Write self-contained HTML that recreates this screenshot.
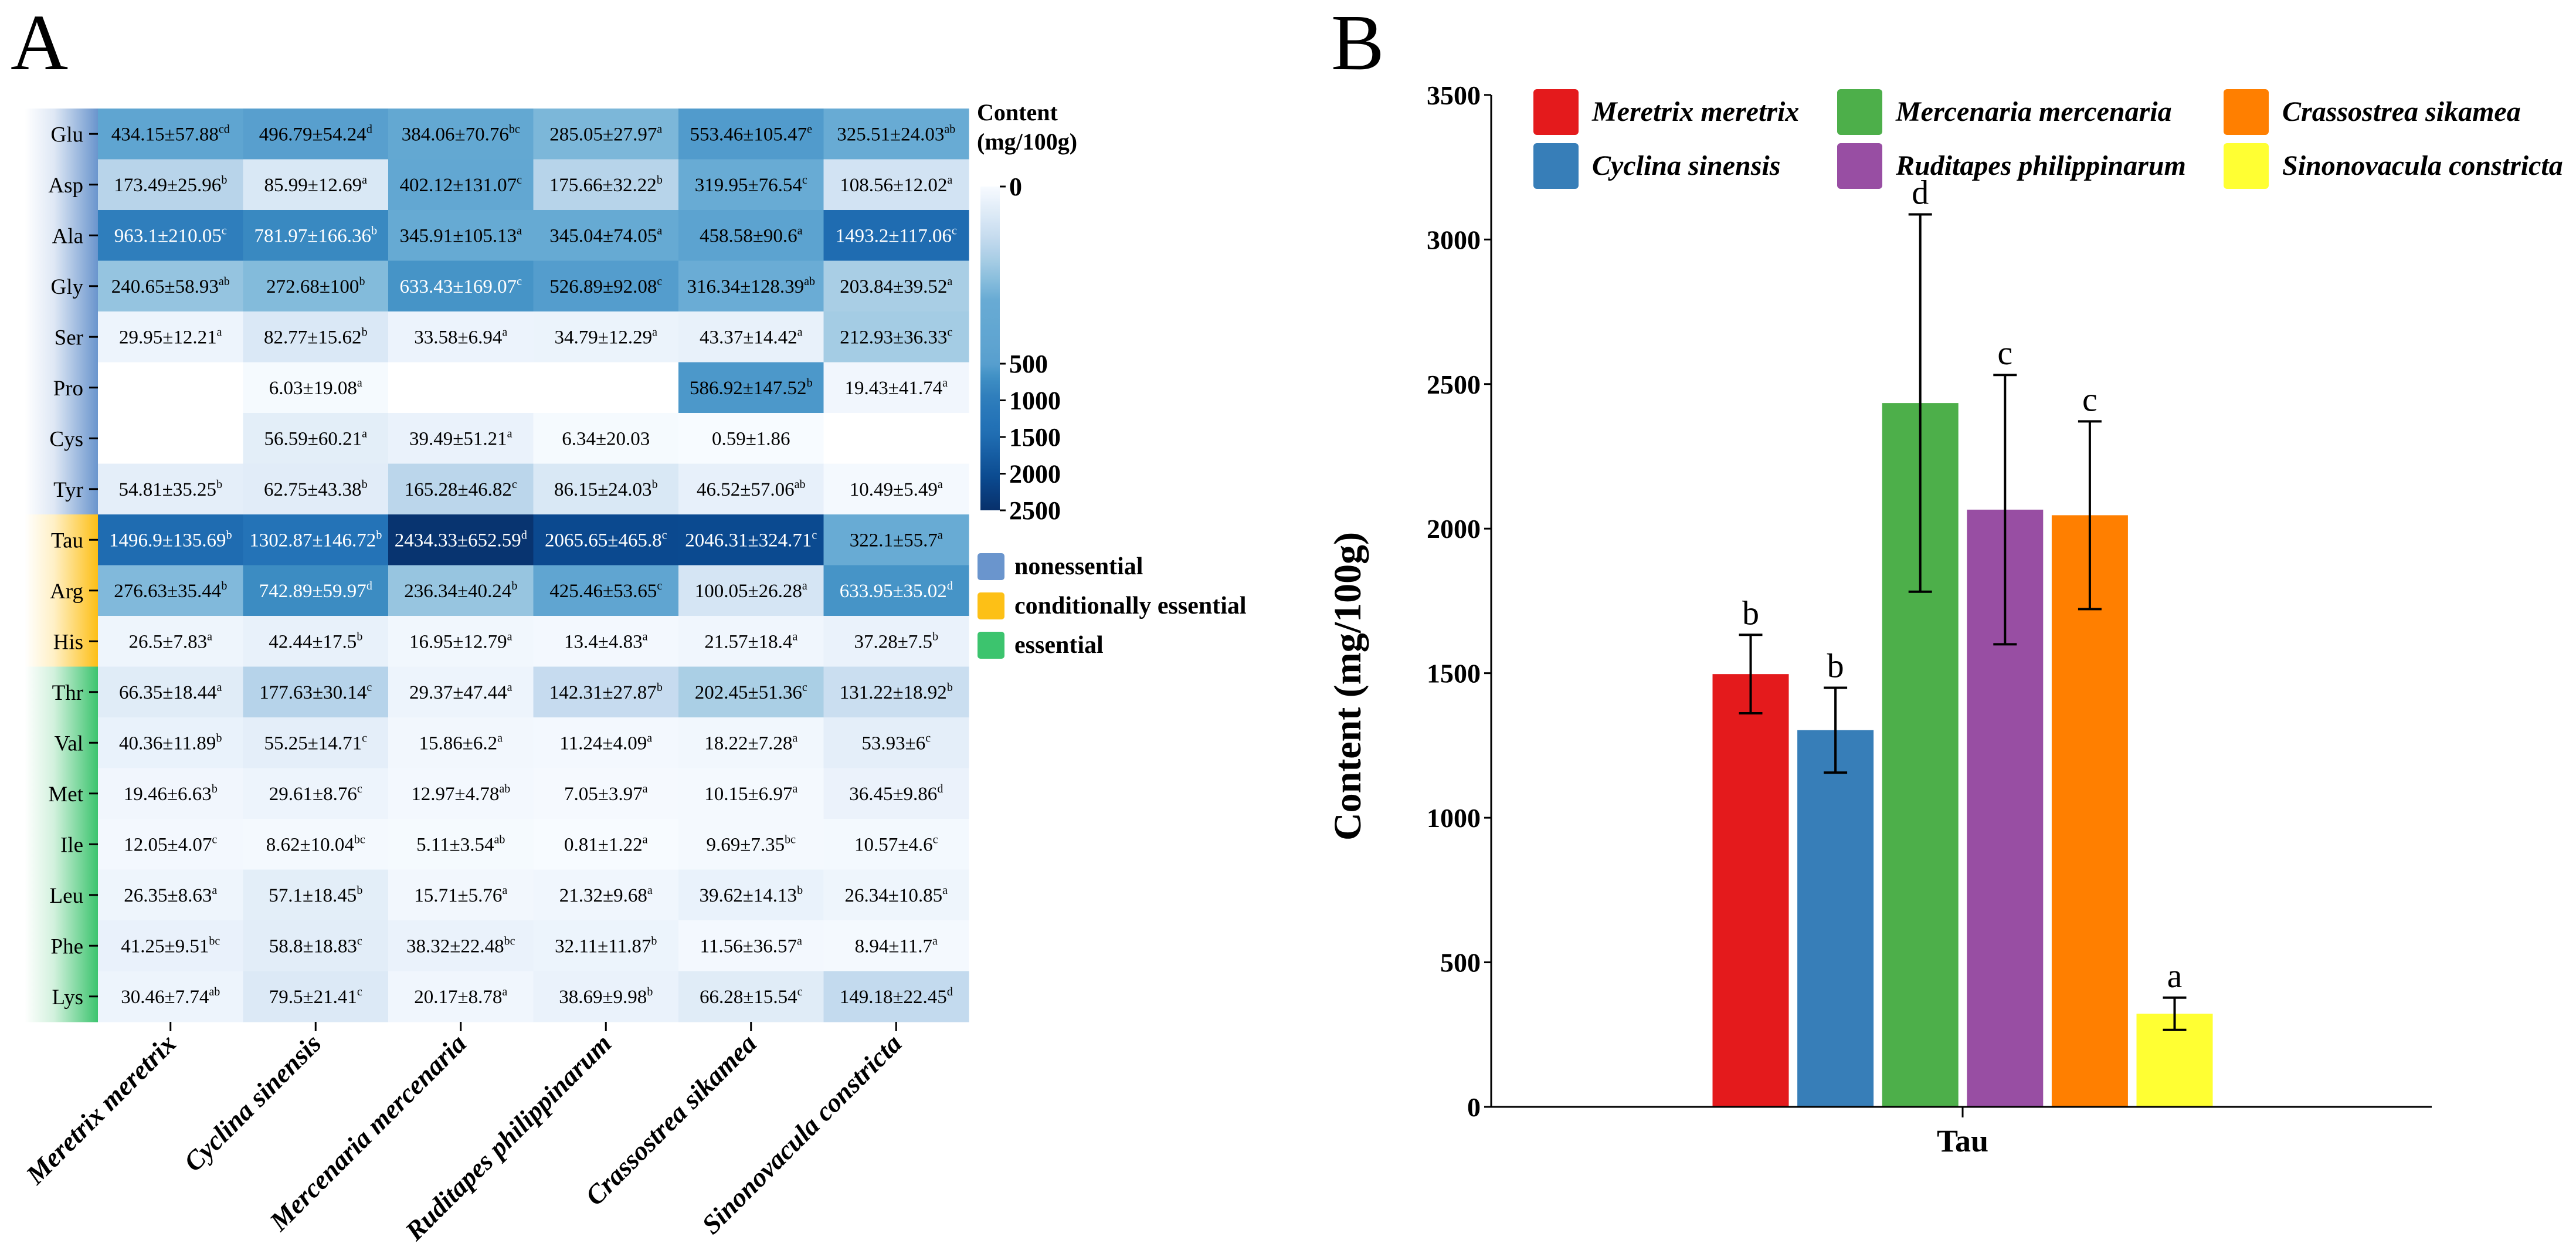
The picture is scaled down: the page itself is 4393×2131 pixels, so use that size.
<!DOCTYPE html>
<html><head><meta charset="utf-8"><style>
html,body{margin:0;padding:0;background:#fff;}
svg{display:block;font-family:"Liberation Serif",serif;}
text{font-family:"Liberation Serif",serif;}
</style></head><body>
<svg id="fig" width="4393" height="2131" viewBox="0 0 4393 2131" xmlns="http://www.w3.org/2000/svg" font-family="Liberation Serif, serif">
<defs>
<linearGradient id="gNon" x1="0" x2="1" y1="0" y2="0"><stop offset="0" stop-color="#ffffff"/><stop offset="0.4" stop-color="#dfe8f5"/><stop offset="1" stop-color="#6a95cd"/></linearGradient>
<linearGradient id="gCond" x1="0" x2="1" y1="0" y2="0"><stop offset="0" stop-color="#ffffff"/><stop offset="0.4" stop-color="#fff0c6"/><stop offset="1" stop-color="#fdbf16"/></linearGradient>
<linearGradient id="gEss" x1="0" x2="1" y1="0" y2="0"><stop offset="0" stop-color="#ffffff"/><stop offset="0.4" stop-color="#d2f1dd"/><stop offset="1" stop-color="#3cc46e"/></linearGradient>
<linearGradient id="gBar" x1="0" x2="0" y1="0" y2="1"></linearGradient>
</defs>
<text x="18" y="118" font-size="136" font-family="Liberation Serif, serif">A</text>
<text x="2270" y="118" font-size="136" font-family="Liberation Serif, serif">B</text>
<g id="heat"></g>
<g id="cbar"></g>
<g id="bars"></g>
</svg>
<script>
const NS="http://www.w3.org/2000/svg";
// ---------- heatmap data ----------
const aminoAcids=["Glu","Asp","Ala","Gly","Ser","Pro","Cys","Tyr","Tau","Arg","His","Thr","Val","Met","Ile","Leu","Phe","Lys"];
const aaGroup=["non","non","non","non","non","non","non","non","cond","cond","cond","ess","ess","ess","ess","ess","ess","ess"];
const species=["Meretrix meretrix","Cyclina sinensis","Mercenaria mercenaria","Ruditapes philippinarum","Crassostrea sikamea","Sinonovacula constricta"];
const means=[
[434.15,496.79,384.06,285.05,553.46,325.51],
[173.49,85.99,402.12,175.66,319.95,108.56],
[963.1,781.97,345.91,345.04,458.58,1493.2],
[240.65,272.68,633.43,526.89,316.34,203.84],
[29.95,82.77,33.58,34.79,43.37,212.93],
[null,6.03,null,null,586.92,19.43],
[null,56.59,39.49,6.34,0.59,null],
[54.81,62.75,165.28,86.15,46.52,10.49],
[1496.9,1302.87,2434.33,2065.65,2046.31,322.1],
[276.63,742.89,236.34,425.46,100.05,633.95],
[26.5,42.44,16.95,13.4,21.57,37.28],
[66.35,177.63,29.37,142.31,202.45,131.22],
[40.36,55.25,15.86,11.24,18.22,53.93],
[19.46,29.61,12.97,7.05,10.15,36.45],
[12.05,8.62,5.11,0.81,9.69,10.57],
[26.35,57.1,15.71,21.32,39.62,26.34],
[41.25,58.8,38.32,32.11,11.56,8.94],
[30.46,79.5,20.17,38.69,66.28,149.18]];
const sds=[
[57.88,54.24,70.76,27.97,105.47,24.03],
[25.96,12.69,131.07,32.22,76.54,12.02],
[210.05,166.36,105.13,74.05,90.6,117.06],
[58.93,100,169.07,92.08,128.39,39.52],
[12.21,15.62,6.94,12.29,14.42,36.33],
[null,19.08,null,null,147.52,41.74],
[null,60.21,51.21,20.03,1.86,null],
[35.25,43.38,46.82,24.03,57.06,5.49],
[135.69,146.72,652.59,465.8,324.71,55.7],
[35.44,59.97,40.24,53.65,26.28,35.02],
[7.83,17.5,12.79,4.83,18.4,7.5],
[18.44,30.14,47.44,27.87,51.36,18.92],
[11.89,14.71,6.2,4.09,7.28,6],
[6.63,8.76,4.78,3.97,6.97,9.86],
[4.07,10.04,3.54,1.22,7.35,4.6],
[8.63,18.45,5.76,9.68,14.13,10.85],
[9.51,18.83,22.48,11.87,36.57,11.7],
[7.74,21.41,8.78,9.98,15.54,22.45]];
const letters=[
["cd","d","bc","a","e","ab"],["b","a","c","b","c","a"],["c","b","a","a","a","c"],["ab","b","c","c","ab","a"],
["a","b","a","a","a","c"],["","a","","","b","a"],["","a","a","","",""],["b","b","c","b","ab","a"],
["b","b","d","c","c","a"],["b","d","b","c","a","d"],["a","b","a","a","a","b"],["a","c","a","b","c","b"],
["b","c","a","a","a","c"],["b","c","ab","a","a","d"],["c","bc","ab","a","bc","c"],["a","b","a","a","b","a"],
["bc","c","bc","b","a","a"],["ab","c","a","b","c","d"]];
const cbarTicks=[0,500,1000,1500,2000,2500];
const groupLegend=["nonessential","conditionally essential","essential"];
// ---------- bar data ----------
const barCategory="Tau";
const barMeans=[1496.9,1302.87,2434.33,2065.65,2046.31,322.1];
const barSds=[135.69,146.72,652.59,465.8,324.71,55.7];
const barLetters=["b","b","d","c","c","a"];
const yTicks=[0,500,1000,1500,2000,2500,3000,3500];

const colorStops=[[0,"#f7fbff"],[30,"#edf4fc"],[60,"#e2edf8"],[90,"#d8e7f5"],[140,"#c7dcef"],[175,"#b7d4ea"],[210,"#a6cde4"],[240,"#95c4e0"],[275,"#82badb"],[320,"#68abd4"],[430,"#60a5d1"],[550,"#519bcc"],[640,"#4593c7"],[750,"#3b8bc2"],[960,"#2f7ebc"],[1300,"#2473b7"],[1500,"#1f6cb1"],[2050,"#0b4a90"],[2500,"#08306b"]];
function hex(h){return [1,3,5].map(i=>parseInt(h.substr(i,2),16));}
function colorFor(v){
  if(v<=0)return colorStops[0][1];
  for(let i=1;i<colorStops.length;i++){
    if(v<=colorStops[i][0]){const a=colorStops[i-1],b=colorStops[i];const t=(v-a[0])/(b[0]-a[0]);
      const ca=hex(a[1]),cb=hex(b[1]);return "rgb("+ca.map((c,k)=>Math.round(c+(cb[k]-c)*t)).join(",")+")";}
  }
  return colorStops[colorStops.length-1][1];
}
function mk(tag,attrs,parent,text){const e=document.createElementNS(NS,tag);for(const k in attrs)e.setAttribute(k,attrs[k]);if(tag==='text')e.setAttribute('font-family','Liberation Serif, serif');if(text!==undefined)e.textContent=text;parent.appendChild(e);return e;}

// ---------- heatmap ----------
const heat=document.getElementById('heat');
const HX0=167,HY0=185,CW=247.5,RH=86.5,STRIPX=42;
const xCell=j=>HX0+CW*j, yCell=i=>HY0+RH*i;
const grad={non:"url(#gNon)",cond:"url(#gCond)",ess:"url(#gEss)"};
aminoAcids.forEach((aa,i)=>{
  const s=mk('rect',{x:STRIPX,y:yCell(i),width:HX0-STRIPX,height:RH+0.6,fill:grad[aaGroup[i]]},heat);
  
  
  const lb=mk('text',{x:142,y:yCell(i)+RH/2+13,'font-size':37,'text-anchor':'end'},heat,aa);
  
  
  mk('line',{x1:152,x2:HX0,y1:yCell(i)+RH/2,y2:yCell(i)+RH/2,stroke:'#000','stroke-width':3},heat);
  species.forEach((sp,j)=>{
    const v=means[i][j];
    const r=mk('rect',{x:xCell(j),y:yCell(i),width:CW+0.6,height:RH+0.6,fill:v===null?'#ffffff':colorFor(v)},heat);
    
    
    if(v!==null){
      const t=mk('text',{x:xCell(j)+CW/2,y:yCell(i)+RH/2+11,'font-size':33,'text-anchor':'middle',fill:v>600?'#ffffff':'#000000'},heat);
      
      
      mk('tspan',{},t,v+'±'+sds[i][j]);
      if(letters[i][j])mk('tspan',{'font-size':20,dy:-13},t,letters[i][j]);
    }
  });
});
const HBOT=yCell(aminoAcids.length);
species.forEach((sp,j)=>{
  const cx=xCell(j)+CW/2;
  mk('line',{x1:cx,x2:cx,y1:HBOT,y2:HBOT+16,stroke:'#000','stroke-width':3},heat);
  const t=mk('text',{x:0,y:0,'font-size':46,'font-weight':'bold','font-style':'italic','text-anchor':'end',transform:'translate('+(cx+12)+','+(HBOT+40)+') rotate(-45)'},heat,sp);
  
  
});

// ---------- colorbar ----------
const cbar=document.getElementById('cbar');
const CBX=1672,CBW=33,CBT=318,CB500=620,CBB=870;
function cbY(v){return v<=500?CBT+(CB500-CBT)*v/500:CB500+(CBB-CB500)*(v-500)/2000;}
const gb=document.getElementById('gBar');
for(let k=0;k<=60;k++){const f=k/60;const y=CBT+f*(CBB-CBT);const v=y<=CB500?(y-CBT)/(CB500-CBT)*500:500+(y-CB500)/(CBB-CB500)*2000;mk('stop',{offset:f,'stop-color':colorFor(v)},gb);}
const cr=mk('rect',{x:CBX,y:CBT,width:CBW,height:CBB-CBT,fill:'url(#gBar)'},cbar);


const ct1=mk('text',{x:1666,y:205,'font-size':40,'font-weight':'bold'},cbar,'Content');


mk('text',{x:1666,y:255,'font-size':40,'font-weight':'bold'},cbar,'(mg/100g)');
cbarTicks.forEach(v=>{
  const y=cbY(v);
  mk('line',{x1:CBX+CBW,x2:CBX+CBW+10,y1:y,y2:y,stroke:'#000','stroke-width':3},cbar);
  const t=mk('text',{x:CBX+CBW+16,y:y+15,'font-size':44,'font-weight':'bold'},cbar,String(v));
  
  
});
const legCols=["#6a95cd","#fdc016","#3cc46e"];
groupLegend.forEach((g,k)=>{
  const y=943+k*67;
  const r=mk('rect',{x:1667,y:y,width:46,height:46,rx:5,fill:legCols[k]},cbar);
  
  
  const t=mk('text',{x:1730,y:y+36,'font-size':42,'font-weight':'bold'},cbar,g);
  
  
});

// ---------- bar chart ----------
const bars=document.getElementById('bars');
const AX=2543,AXR=4147,Y0=1887,PXU=0.4929;
const yS=v=>Y0-v*PXU;
const barColors=["#e41a1c","#377eb8","#4daf4a","#984ea3","#ff7f00","#ffff33"];
const CX=3347,STEP=144.6,BW=130;
const xS=k=>CX+(k-(barMeans.length-1)/2)*STEP;
const ya=mk('line',{x1:AX,x2:AX,y1:yS(3500),y2:Y0,stroke:'#000','stroke-width':3},bars);


yTicks.forEach(v=>{
  mk('line',{x1:AX-12,x2:AX,y1:yS(v),y2:yS(v),stroke:'#000','stroke-width':3},bars);
  const t=mk('text',{x:AX-18,y:yS(v)+16,'font-size':46,'font-weight':'bold','text-anchor':'end'},bars,String(v));
  
  
});
const yt=mk('text',{x:0,y:0,'font-size':66,'font-weight':'bold','text-anchor':'middle',transform:'translate(2320,1170) rotate(-90)'},bars,'Content (mg/100g)');


barMeans.forEach((v,k)=>{
  const x=xS(k);
  const r=mk('rect',{x:x-BW/2,y:yS(v),width:BW,height:Y0-yS(v),fill:barColors[k]},bars);
  
  
  const top=yS(v+barSds[k]),bot=yS(v-barSds[k]);
  const e=mk('g',{stroke:'#000','stroke-width':4},bars);
  
  
  mk('line',{x1:x,x2:x,y1:top,y2:bot},e);
  mk('line',{x1:x-20,x2:x+20,y1:top,y2:top},e);
  mk('line',{x1:x-20,x2:x+20,y1:bot,y2:bot},e);
  const l=mk('text',{x:x,y:top-18,'font-size':58,'text-anchor':'middle'},bars,barLetters[k]);
  
  
});
const xa=mk('line',{x1:AX,x2:AXR,y1:Y0,y2:Y0,stroke:'#000','stroke-width':3},bars);


mk('line',{x1:CX,x2:CX,y1:Y0,y2:Y0+18,stroke:'#000','stroke-width':3},bars);
const xl=mk('text',{x:CX,y:1963,'font-size':54,'font-weight':'bold','text-anchor':'middle'},bars,barCategory);


const legX=[2615,3133,3792],legY=[152,244];
const legOrder=[[0,2,4],[1,3,5]];
legOrder.forEach((row,ri)=>row.forEach((k,ci)=>{
  const r=mk('rect',{x:legX[ci],y:legY[ri],width:77,height:78,rx:6,fill:barColors[k]},bars);
  
  
  const t=mk('text',{x:legX[ci]+100,y:legY[ri]+54,'font-size':48,'font-weight':'bold','font-style':'italic'},bars,species[k]);
  
  
}));
</script>
</body></html>
